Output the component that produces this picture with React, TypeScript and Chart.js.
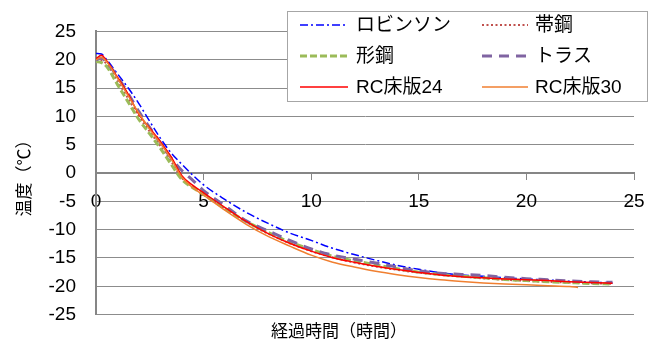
import React, { useEffect, useRef } from 'react';
import { Chart, registerables } from 'chart.js';

Chart.register(...registerables);

// elapsed time (hours)
const hours = [0, 0.25, 0.5, 1, 1.5, 2, 2.5, 3, 3.5, 4, 4.5, 5, 6, 7, 8, 9, 10, 11, 12, 13, 14, 15, 16, 17, 18, 19, 20, 21, 22, 23, 24];
const hoursRc30 = [0, 0.25, 0.5, 1, 1.5, 2, 2.5, 3, 3.5, 4, 4.5, 5, 6, 7, 8, 9, 10, 11, 12, 13, 14, 15, 16, 17, 18, 19, 20, 21, 22, 22.4];

// temperatures (°C)
const robinson = [21.1, 21.0, 20.0, 17.5, 15.0, 12.2, 9.1, 6.1, 3.5, 1.5, -0.4, -2.1, -4.7, -7.0, -8.9, -10.6, -11.9, -13.3, -14.4, -15.4, -16.3, -17.0, -17.6, -18.0, -18.25, -18.5, -18.7, -18.9, -19.1, -19.25, -19.4];
const obiko = [19.8, 19.9, 19.2, 16.2, 13.1, 9.9, 7.3, 4.7, 2.0, -0.9, -2.5, -3.7, -6.3, -8.7, -10.7, -12.4, -13.8, -14.9, -15.8, -16.5, -17.1, -17.6, -18.0, -18.3, -18.6, -18.85, -19.05, -19.2, -19.35, -19.45, -19.55];
const katako = [19.7, 19.5, 18.8, 15.6, 12.5, 9.4, 6.9, 4.3, 1.5, -1.2, -2.6, -3.8, -6.3, -8.6, -10.5, -12.2, -13.5, -14.7, -15.5, -16.2, -16.9, -17.5, -17.9, -18.2, -18.5, -18.8, -19.0, -19.2, -19.35, -19.5, -19.6];
const truss = [20.0, 20.3, 19.5, 17.0, 14.0, 10.8, 8.0, 5.3, 2.6, 0.4, -1.3, -3.1, -5.8, -8.5, -10.2, -11.9, -13.4, -14.5, -15.2, -15.9, -16.6, -17.3, -17.7, -17.9, -18.1, -18.4, -18.65, -18.85, -19.05, -19.2, -19.3];
const rc24 = [20.2, 20.8, 19.8, 16.9, 13.9, 10.3, 7.9, 5.5, 2.8, -0.5, -2.2, -3.5, -6.1, -8.6, -10.7, -12.4, -13.8, -14.95, -15.75, -16.45, -17.05, -17.55, -18.0, -18.3, -18.5, -18.7, -18.85, -19.0, -19.2, -19.35, -19.45];
const rc30 = [20.0, 20.4, 19.6, 16.7, 13.6, 10.5, 7.7, 5.2, 2.4, -0.8, -2.6, -3.9, -6.6, -9.1, -11.2, -12.9, -14.5, -15.75, -16.6, -17.35, -17.95, -18.45, -18.85, -19.15, -19.4, -19.6, -19.75, -19.9, -20.05, -20.2];

const seriesLabels = ['ロビンソン', '帯鋼', '形鋼', 'トラス', 'RC床版24', 'RC床版30'];
const xTitle = '経過時間（時間）';
const yTitle = '温度（℃）';

const xMin = 0, xMax = 25, xStep = 5;
const yMin = -25, yMax = 25, yStep = 5;

const toPoints = (xs: number[], ys: number[]) => xs.map((x, i) => ({ x, y: ys[i] }));

const TICK_FONT = "'Liberation Sans', Arial, sans-serif";
const CJK_FONT = "'Liberation Sans', 'Noto Sans CJK JP', sans-serif";

const overlayPlugin = {
  id: 'overlay',
  afterDraw(chart: any) {
    const ctx = chart.ctx as CanvasRenderingContext2D;
    const area = chart.chartArea;
    ctx.save();
    // axis titles
    ctx.fillStyle = '#000';
    ctx.textAlign = 'center';
    ctx.textBaseline = 'middle';
    ctx.font = `17px ${CJK_FONT}`;
    ctx.save();
    ctx.translate(25, (area.top + area.bottom) / 2 + 1);
    ctx.rotate(-Math.PI / 2);
    ctx.fillText(yTitle, 0, 0);
    ctx.restore();
    ctx.fillText(xTitle, 339, 332);

    // legend box
    const bx = 287, by = 11, bw = 361, bh = 91;
    ctx.fillStyle = '#fff';
    ctx.fillRect(bx, by, bw, bh);
    ctx.strokeStyle = '#a6a6a6';
    ctx.lineWidth = 1;
    ctx.strokeRect(bx + 0.5, by + 0.5, bw - 1, bh - 1);

    const colX = [300, 482];
    const lineLen = [48, 46];
    const textX = [356, 535];
    const rowY = [25, 56, 87];
    ctx.font = `19px ${CJK_FONT}`;
    ctx.textAlign = 'left';
    ctx.textBaseline = 'middle';
    chart.data.datasets.forEach((ds: any, i: number) => {
      const c = i % 2;
      const r = Math.floor(i / 2);
      const y = rowY[r];
      ctx.save();
      ctx.strokeStyle = ds.borderColor;
      ctx.lineWidth = Math.max(ds.borderWidth, 1.5);
      ctx.setLineDash(ds.borderDash || []);
      ctx.beginPath();
      ctx.moveTo(colX[c], y);
      ctx.lineTo(colX[c] + lineLen[c], y);
      ctx.stroke();
      ctx.restore();
      ctx.fillStyle = '#000';
      ctx.fillText(ds.label, textX[c], y + 1);
    });
    ctx.restore();
  },
};

export default function App() {
  const ref = useRef<HTMLCanvasElement | null>(null);

  useEffect(() => {
    if (!ref.current) return;
    const common = { fill: false, pointRadius: 0, cubicInterpolationMode: 'monotone' as const };
    const chart = new Chart(ref.current, {
      type: 'line',
      data: {
        datasets: [
          { ...common, label: seriesLabels[0], data: toPoints(hours, robinson), borderColor: '#0000ff', borderWidth: 1.5, borderDash: [8, 3, 2, 3], order: 6 },
          { ...common, label: seriesLabels[1], data: toPoints(hours, obiko), borderColor: '#c0504d', borderWidth: 2, borderDash: [2, 2.5], order: 5 },
          { ...common, label: seriesLabels[2], data: toPoints(hours, katako), borderColor: '#9bbb59', borderWidth: 3, borderDash: [7, 3], order: 4 },
          { ...common, label: seriesLabels[3], data: toPoints(hours, truss), borderColor: '#8064a2', borderWidth: 3, borderDash: [10, 7], order: 3 },
          { ...common, label: seriesLabels[4], data: toPoints(hours, rc24), borderColor: '#ff0000', borderWidth: 1.5, order: 2 },
          { ...common, label: seriesLabels[5], data: toPoints(hoursRc30, rc30), borderColor: '#f07f30', borderWidth: 1.5, order: 1 },
        ],
      },
      options: {
        responsive: false,
        animation: false,
        devicePixelRatio: 1,
        layout: { padding: { left: 0, right: 26, top: 20, bottom: 29 } },
        plugins: { legend: { display: false }, tooltip: { enabled: false }, title: { display: false } },
        scales: {
          x: {
            type: 'linear',
            position: { y: 0 } as any,
            min: xMin,
            max: xMax,
            afterFit: (s: any) => { s.height = 0; },
            ticks: { stepSize: xStep, padding: 11, color: '#000', font: { family: TICK_FONT, size: 19 }, maxRotation: 0 },
            grid: { display: true, drawOnChartArea: false, drawTicks: true, tickLength: 6, color: '#868686', lineWidth: 1 },
            border: { display: true, color: '#868686', width: 2 },
          },
          y: {
            type: 'linear',
            min: yMin,
            max: yMax,
            afterFit: (s: any) => { s.width = 96; },
            ticks: { stepSize: yStep, padding: 20, color: '#000', font: { family: TICK_FONT, size: 19 } },
            grid: { color: '#8c8c8c', lineWidth: 1, drawTicks: false },
            border: { display: true, color: '#868686', width: 2 },
          },
        },
      },
      plugins: [overlayPlugin],
    });
    return () => chart.destroy();
  }, []);

  return (
    <div style={{ position: 'fixed', left: 0, top: 0, width: 660, height: 346, background: '#fff' }}>
      <canvas ref={ref} width={660} height={346} style={{ display: 'block', width: 660, height: 346 }} />
    </div>
  );
}
